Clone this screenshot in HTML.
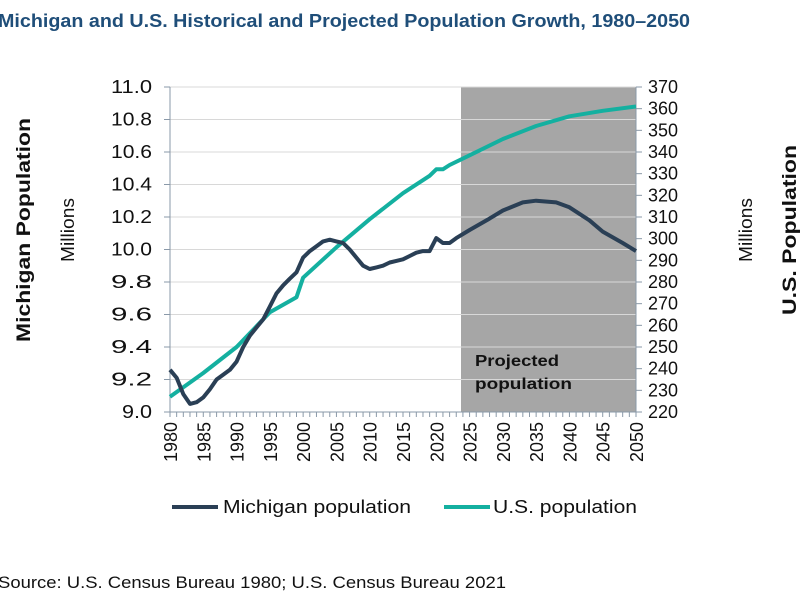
<!DOCTYPE html>
<html><head><meta charset="utf-8"><style>
body{margin:0;background:#fff;width:800px;height:600px;overflow:hidden;font-family:"Liberation Sans",sans-serif}
</style></head><body>
<svg id="s" width="800" height="600" xmlns="http://www.w3.org/2000/svg" font-family="Liberation Sans, sans-serif">
<text x="-2" y="27" font-size="18" font-weight="bold" fill="#1f4e79" textLength="692" lengthAdjust="spacingAndGlyphs">Michigan and U.S. Historical and Projected Population Growth, 1980–2050</text>
<rect x="461" y="87" width="175" height="325" fill="#a6a6a6"/>
<g id="grid" stroke="#d8d8d8" stroke-width="1"></g>
<text x="475" y="366" font-size="16" font-weight="bold" fill="#111" textLength="84" lengthAdjust="spacingAndGlyphs">Projected</text>
<text x="475" y="389" font-size="16" font-weight="bold" fill="#111" textLength="97" lengthAdjust="spacingAndGlyphs">population</text>
<g id="ax" stroke="#8a99a8" stroke-width="1"></g>
<g id="lbl" font-size="18" fill="#111"></g>
<path id="us" fill="none" stroke="#14b0a0" stroke-width="4" stroke-linejoin="round"/>
<path id="mi" fill="none" stroke="#2a3f55" stroke-width="4" stroke-linejoin="round"/>
<text transform="translate(30,230) rotate(-90)" text-anchor="middle" font-size="19" font-weight="bold" fill="#111" textLength="224" lengthAdjust="spacingAndGlyphs">Michigan Population</text>
<text transform="translate(74,230) rotate(-90)" text-anchor="middle" font-size="18" fill="#111" textLength="64" lengthAdjust="spacingAndGlyphs">Millions</text>
<text transform="translate(752,230) rotate(-90)" text-anchor="middle" font-size="18" fill="#111" textLength="64" lengthAdjust="spacingAndGlyphs">Millions</text>
<text transform="translate(796,230) rotate(-90)" text-anchor="middle" font-size="19" font-weight="bold" fill="#111" textLength="170" lengthAdjust="spacingAndGlyphs">U.S. Population</text>
<line x1="172" y1="507" x2="218" y2="507" stroke="#2a3f55" stroke-width="4"/>
<text x="223" y="513" font-size="18" fill="#111" textLength="188" lengthAdjust="spacingAndGlyphs">Michigan population</text>
<line x1="444" y1="507" x2="490" y2="507" stroke="#14b0a0" stroke-width="4"/>
<text x="493" y="513" font-size="18" fill="#111" textLength="144" lengthAdjust="spacingAndGlyphs">U.S. population</text>
<text x="-2" y="588" font-size="17" fill="#111" textLength="508" lengthAdjust="spacingAndGlyphs">Source: U.S. Census Bureau 1980; U.S. Census Bureau 2021</text>
</svg>
<script>
var X=y=>170+(y-1980)*466/70, YM=v=>412-(v-9)*162.5, YU=v=>412-(v-220)*325/150;
var ns="http://www.w3.org/2000/svg";
function el(p,t,a,txt){var e=document.createElementNS(ns,t);for(var k in a)e.setAttribute(k,a[k]);if(txt!=null)e.textContent=txt;document.getElementById(p).appendChild(e);}
for(var i=1;i<=10;i++){var y=412-i*32.5;el("grid","line",{x1:170,x2:636,y1:y,y2:y});}
el("ax","line",{x1:170,x2:170,y1:87,y2:412});el("ax","line",{x1:636,x2:636,y1:87,y2:412});el("ax","line",{x1:170,x2:636,y1:412,y2:412});
for(var i=0;i<=10;i++){var y=412-i*32.5;el("ax","line",{x1:164,x2:170,y1:y,y2:y});el("lbl","text",{x:152,y:y+6,"text-anchor":"end",textLength:(i==0?30:41),lengthAdjust:"spacingAndGlyphs"},(9+i*0.2).toFixed(1));}
for(var i=0;i<=15;i++){var y=412-i*325/15;el("ax","line",{x1:636,x2:642,y1:y,y2:y});el("lbl","text",{x:648,y:y+6,textLength:30,lengthAdjust:"spacingAndGlyphs"},220+i*10);}
for(var yr=1980;yr<=2050;yr++){el("ax","line",{x1:X(yr),x2:X(yr),y1:412,y2:417});}
for(var yr=1980;yr<=2050;yr+=5){var x=X(yr)+7;el("lbl","text",{transform:"translate("+x+",462) rotate(-90)",textLength:40,lengthAdjust:"spacingAndGlyphs"},yr);}
var mi=[[1980,9.26],[1981,9.21],[1982,9.11],[1983,9.05],[1984,9.06],[1985,9.09],[1986,9.14],[1987,9.2],[1988,9.23],[1989,9.26],[1990,9.31],[1991,9.4],[1992,9.47],[1993,9.52],[1994,9.57],[1995,9.65],[1996,9.73],[1997,9.78],[1998,9.82],[1999,9.86],[2000,9.95],[2001,9.99],[2002,10.02],[2003,10.05],[2004,10.06],[2005,10.05],[2006,10.04],[2007,10.0],[2008,9.95],[2009,9.9],[2010,9.88],[2011,9.89],[2012,9.9],[2013,9.92],[2014,9.93],[2015,9.94],[2016,9.96],[2017,9.98],[2018,9.99],[2019,9.99],[2020,10.07],[2021,10.04],[2022,10.04],[2023,10.07],[2025,10.12],[2028,10.19],[2030,10.24],[2033,10.29],[2035,10.3],[2038,10.29],[2040,10.26],[2043,10.18],[2045,10.11],[2048,10.04],[2050,9.99]];
var us=[[1980,227],[1985,238],[1990,250],[1995,266],[1999,273],[2000,282],[2005,296],[2010,309],[2015,321],[2019,329],[2020,332],[2021,332],[2022,334],[2025,338.5],[2030,346],[2035,352],[2040,356.5],[2045,359],[2050,361]];
document.getElementById("mi").setAttribute("d","M"+mi.map(p=>X(p[0]).toFixed(1)+","+YM(p[1]).toFixed(1)).join("L"));
document.getElementById("us").setAttribute("d","M"+us.map(p=>X(p[0]).toFixed(1)+","+YU(p[1]).toFixed(1)).join("L"));
</script>
</body></html>
